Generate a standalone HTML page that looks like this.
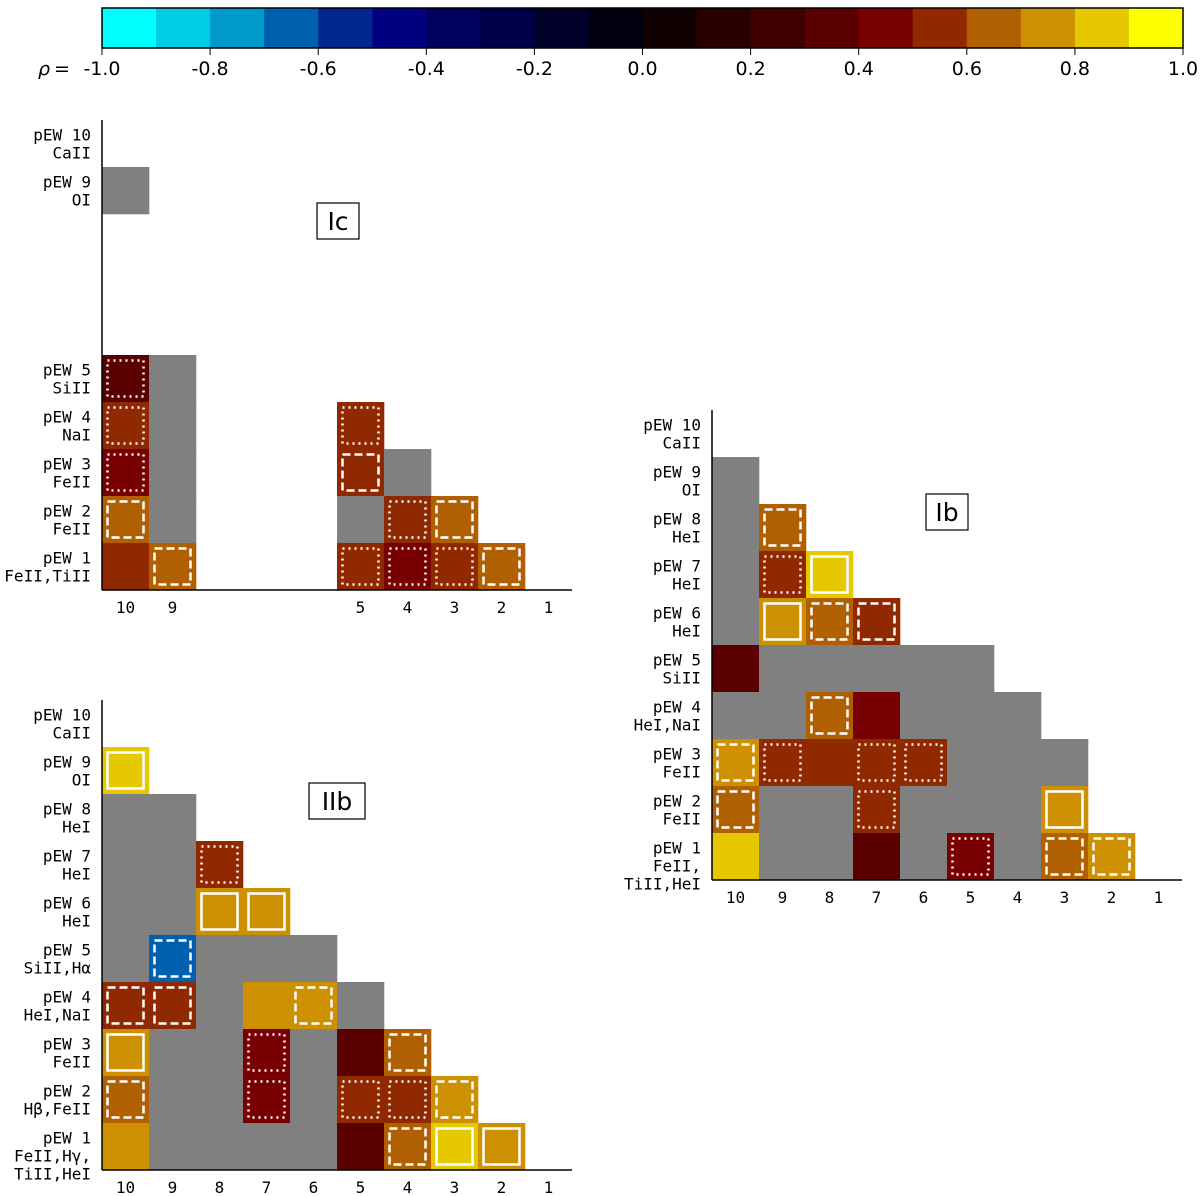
<!DOCTYPE html>
<html><head><meta charset="utf-8"><style>
html,body{margin:0;padding:0;background:#fff}
svg{display:block}
text{font-family:"DejaVu Sans Mono","Liberation Mono",monospace;font-size:16px;fill:#000}
.pl{font-family:"DejaVu Sans","Liberation Sans",sans-serif;font-size:25px}
.cb{font-family:"DejaVu Sans","Liberation Sans",sans-serif;font-size:19px}
</style></head><body>
<svg id="chart" width="1200" height="1196" viewBox="0 0 1200 1196">
<g id="cbar"></g>
<g id="panels"></g>
</svg>
<script>
const cbColors=["#00ffff","#00cce6","#0099cc","#0060b0","#00288c","#000080","#000060","#000048","#000028","#000010","#100000","#280000","#400000","#5a0000","#780000","#902800","#b06000","#cc9000","#e6c800","#ffff00"];
const cbTicks=[-1.0,-0.8,-0.6,-0.4,-0.2,0.0,0.2,0.4,0.6,0.8,1.0];
const cbTickLabels=["-1.0","-0.8","-0.6","-0.4","-0.2","0.0","0.2","0.4","0.6","0.8","1.0"];
const icLabels={10:["pEW 10","CaII"],9:["pEW 9","OI"],5:["pEW 5","SiII"],4:["pEW 4","NaI"],3:["pEW 3","FeII"],2:["pEW 2","FeII"],1:["pEW 1","FeII,TiII"]};
const icCols=[10,9,5,4,3,2,1];
const icCells=[[9,10,null,"g"],[5,10,0.35,"dot"],[5,9,null,"g"],[4,10,0.55,"dot"],[4,9,null,"g"],[4,5,0.5,"dot"],[3,10,0.45,"dot"],[3,9,null,"g"],[3,5,0.55,"dash"],[3,4,null,"g"],[2,10,0.65,"dash"],[2,9,null,"g"],[2,5,null,"g"],[2,4,0.5,"dot"],[2,3,0.65,"dash"],[1,10,0.5,"none"],[1,9,0.6,"dash"],[1,5,0.55,"dot"],[1,4,0.42,"dot"],[1,3,0.5,"dot"],[1,2,0.65,"dash"]];
const ibLabels={10:["pEW 10","CaII"],9:["pEW 9","OI"],8:["pEW 8","HeI"],7:["pEW 7","HeI"],6:["pEW 6","HeI"],5:["pEW 5","SiII"],4:["pEW 4","HeI,NaI"],3:["pEW 3","FeII"],2:["pEW 2","FeII"],1:["pEW 1","FeII,","TiII,HeI"]};
const ibCols=[10,9,8,7,6,5,4,3,2,1];
const ibCells=[[9,10,null,"g"],[8,10,null,"g"],[8,9,0.65,"dash"],[7,10,null,"g"],[7,9,0.55,"dot"],[7,8,0.85,"solid"],[6,10,null,"g"],[6,9,0.75,"solid"],[6,8,0.65,"dash"],[6,7,0.55,"dash"],[5,10,0.38,"none"],[5,9,null,"g"],[5,8,null,"g"],[5,7,null,"g"],[5,6,null,"g"],[5,5,null,"g"],[4,10,null,"g"],[4,9,null,"g"],[4,8,0.6,"dash"],[4,7,0.45,"none"],[4,6,null,"g"],[4,5,null,"g"],[4,4,null,"g"],[3,10,0.7,"dash"],[3,9,0.55,"dot"],[3,8,0.5,"none"],[3,7,0.52,"dot"],[3,6,0.5,"dot"],[3,5,null,"g"],[3,4,null,"g"],[3,3,null,"g"],[2,10,0.65,"dash"],[2,9,null,"g"],[2,8,null,"g"],[2,7,0.5,"dot"],[2,6,null,"g"],[2,5,null,"g"],[2,4,null,"g"],[2,3,0.78,"solid"],[1,10,0.8,"none"],[1,9,null,"g"],[1,8,null,"g"],[1,7,0.35,"none"],[1,6,null,"g"],[1,5,0.45,"dot"],[1,4,null,"g"],[1,3,0.65,"dash"],[1,2,0.7,"dash"]];
const iibLabels={10:["pEW 10","CaII"],9:["pEW 9","OI"],8:["pEW 8","HeI"],7:["pEW 7","HeI"],6:["pEW 6","HeI"],5:["pEW 5","SiII,H\u03b1"],4:["pEW 4","HeI,NaI"],3:["pEW 3","FeII"],2:["pEW 2","H\u03b2,FeII"],1:["pEW 1","FeII,H\u03b3,","TiII,HeI"]};
const iibCols=[10,9,8,7,6,5,4,3,2,1];
const iibCells=[[9,10,0.8,"solid"],[8,10,null,"g"],[8,9,null,"g"],[7,10,null,"g"],[7,9,null,"g"],[7,8,0.55,"dot"],[6,10,null,"g"],[6,9,null,"g"],[6,8,0.78,"solid"],[6,7,0.78,"solid"],[5,10,null,"g"],[5,9,-0.65,"dash"],[5,8,null,"g"],[5,7,null,"g"],[5,6,null,"g"],[4,10,0.58,"dash"],[4,9,0.58,"dash"],[4,8,null,"g"],[4,7,0.78,"none"],[4,6,0.7,"dash"],[4,5,null,"g"],[3,10,0.78,"solid"],[3,9,null,"g"],[3,8,null,"g"],[3,7,0.48,"dot"],[3,6,null,"g"],[3,5,0.35,"none"],[3,4,0.6,"dash"],[2,10,0.6,"dash"],[2,9,null,"g"],[2,8,null,"g"],[2,7,0.42,"dot"],[2,6,null,"g"],[2,5,0.55,"dot"],[2,4,0.52,"dot"],[2,3,0.75,"dash"],[1,10,0.78,"none"],[1,9,null,"g"],[1,8,null,"g"],[1,7,null,"g"],[1,6,null,"g"],[1,5,0.35,"none"],[1,4,0.6,"dash"],[1,3,0.88,"solid"],[1,2,0.75,"solid"]];
const NS="http://www.w3.org/2000/svg";
function mk(tag,attrs,parent){const e=document.createElementNS(NS,tag);for(const k in attrs)e.setAttribute(k,attrs[k]);parent.appendChild(e);return e;}
function colorFor(r){let i=Math.floor((r+1)/0.1);if(i<0)i=0;if(i>19)i=19;return cbColors[i];}
const cb=document.getElementById('cbar');
const cbX0=102,cbX1=1183,cbY0=8,cbY1=48;
const cbx=v=>cbX0+(v+1)/2*(cbX1-cbX0);
cbColors.forEach((c,i)=>{const r=mk('rect',{x:cbx(-1+i*0.1),y:cbY0,width:cbx(-1+(i+1)*0.1)-cbx(-1+i*0.1)+0.5,height:cbY1-cbY0,fill:c},cb);

});
mk('rect',{x:cbX0,y:cbY0,width:cbX1-cbX0,height:cbY1-cbY0,fill:'none',stroke:'#000','stroke-width':1.5},cb);
const rho=mk('text',{x:cbx(-1)-64,y:75,class:'cb','font-style':'italic'},cb);
rho.textContent='\u03c1';


const eq=mk('text',{x:cbx(-1)-48,y:75,class:'cb'},cb);
eq.textContent='=';


cbTicks.forEach((v,i)=>{mk('line',{x1:cbx(v),x2:cbx(v),y1:cbY1,y2:cbY1+7,stroke:'#000','stroke-width':1},cb);
const t=mk('text',{x:cbx(v),y:75,'text-anchor':'middle',class:'cb'},cb);
t.textContent=cbTickLabels[i];

});
const S=47;
function panel(name,ax,ay,labels,cells,cols,lblX,lblY){
const g=mk('g',{},document.getElementById('panels'));


const colX=c=>ax+(10-c)*S;
const rowY=r=>ay-r*S;
cells.forEach(([r,c,v,st])=>{
const x=colX(c),y=rowY(r);
const fill=st==='g'?'#808080':colorFor(v);
const rc=mk('rect',{x:x,y:y,width:S+0.3,height:S+0.3,fill:fill},g);


if(st==='dash'||st==='dot'||st==='solid'){
const a={x:x+5.5,y:y+5.5,width:S-11,height:S-11,fill:'none',stroke:'#fff','stroke-width':2.5};
if(st==='dash')a['stroke-dasharray']='8,4';
if(st==='dot')a['stroke-dasharray']='2,4';
mk('rect',a,g);}
});
mk('line',{x1:ax,x2:ax,y1:ay-10*S,y2:ay,stroke:'#000','stroke-width':1.5},g);
mk('line',{x1:ax,x2:ax+10*S,y1:ay,y2:ay,stroke:'#000','stroke-width':1.5},g);
cols.forEach(c=>{const t=mk('text',{x:colX(c)+S/2,y:ay+23,'text-anchor':'middle'},g);t.textContent=String(c);

});
for(const r in labels){const cy=rowY(+r)+S/2;const ls=labels[r];
ls.forEach((s,i)=>{const t=mk('text',{x:ax-11,y:cy-3+i*18,'text-anchor':'end'},g);t.textContent=s;

});}
const bw=name.length*14+14;
mk('rect',{x:lblX-bw/2,y:lblY-18,width:bw,height:36,fill:'#fff',stroke:'#000','stroke-width':1.2},g);
const t=mk('text',{x:lblX,y:lblY+9,'text-anchor':'middle',class:'pl'},g);t.textContent=name;


}
panel('Ic',102,590,icLabels,icCells,icCols,338,221);
panel('Ib',712,880,ibLabels,ibCells,ibCols,947,512);
panel('IIb',102,1170,iibLabels,iibCells,iibCols,337,801);
</script>
</body></html>
